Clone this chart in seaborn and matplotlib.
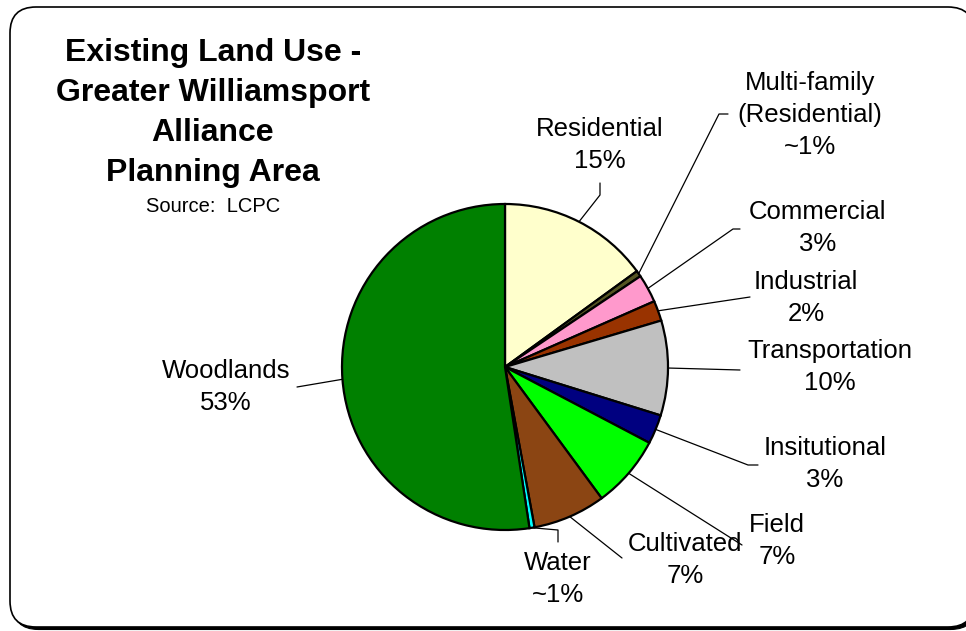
import matplotlib
matplotlib.use("Agg")
import numpy as np
import matplotlib.pyplot as plt
import seaborn as sns
from matplotlib.patches import FancyBboxPatch

# ---- data ----
categories = ["Residential", "Multi-family\n(Residential)", "Commercial", "Industrial",
              "Transportation", "Insitutional", "Field", "Cultivated", "Water", "Woodlands"]
pct_labels = ["15%", "~1%", "3%", "2%", "10%", "3%", "7%", "7%", "~1%", "53%"]
shares = [15.0, 0.6, 2.8, 2.0, 9.4, 2.9, 7.2, 7.2, 0.5, 52.4]
colors = ["#FFFFCC", "#555522", "#FF99CC", "#993300", "#C0C0C0",
          "#000080", "#00FF00", "#8B4513", "#00FFFF", "#008000"]

title_lines = "Existing Land Use -\nGreater Williamsport\nAlliance\nPlanning Area"
source_text = "Source:  LCPC"

# ---- layout (pixel coords, y from top) ----
label_pos = [(600, 145), (810, 115), (818, 228), (806, 298), (830, 367),
             (825, 464), (777, 541), (685, 560), (558, 579), (226, 387)]
leader_pts = [[(600, 195), (600, 183)],
              [(719, 114), (728, 114)],
              [(733, 229), (740, 229)],
              [(750, 297)],
              [(740, 370)],
              [(748, 465), (758, 465)],
              [(742, 545)],
              [(622, 558)],
              [(558, 530), (558, 542)],
              [(297, 387)]]

sns.set_theme(style="white")
plt.rcParams['font.family'] = ['Liberation Sans', 'DejaVu Sans']

W, H = 966, 631
fig = plt.figure(figsize=(W / 100, H / 100), dpi=100)
ax = fig.add_axes([0, 0, 1, 1])


def py(y):
    return H - y


# frame with shadow
x0, x1, ytop, ybot = 10, 974, 7, 627
shadow = FancyBboxPatch((x0 + 2.5, py(ybot) - 2.5), x1 - x0, ybot - ytop,
                        boxstyle="round,pad=0,rounding_size=26",
                        facecolor="black", edgecolor="black", lw=0.8, zorder=0)
frame = FancyBboxPatch((x0, py(ybot)), x1 - x0, ybot - ytop,
                       boxstyle="round,pad=0,rounding_size=26",
                       facecolor="white", edgecolor="black", lw=1.2, zorder=1)
ax.add_patch(shadow)
ax.add_patch(frame)

cx, cy, r = 505, py(367), 163
wedges, _ = ax.pie(shares, colors=colors, startangle=90, counterclock=False,
                   center=(cx, cy), radius=r, frame=True,
                   wedgeprops=dict(edgecolor="black", linewidth=1.6))
for w in wedges:
    w.set_zorder(3)
ax.set_xlim(0, W)
ax.set_ylim(0, H)
ax.axis('off')

for w, cat, pct, (tx, ty), pts in zip(wedges, categories, pct_labels, label_pos, leader_pts):
    th = np.deg2rad((w.theta1 + w.theta2) / 2)
    sx, sy = cx + r * np.cos(th), cy + r * np.sin(th)
    xs = [sx] + [p[0] for p in pts]
    ys = [sy] + [py(p[1]) for p in pts]
    ax.plot(xs, ys, color="black", lw=0.9, zorder=2)
    ax.text(tx, py(ty), f"{cat}\n{pct}", ha="center", va="center",
            fontsize=18.5, linespacing=1.44, color="black", zorder=4)

ax.text(213, py(113), title_lines, ha="center", va="center", fontsize=23,
        fontweight="bold", linespacing=1.43, color="black", zorder=4)
ax.text(213, py(207), source_text, ha="center", va="center", fontsize=14.5,
        color="black", zorder=4)

fig.savefig("out.png", dpi=100)
